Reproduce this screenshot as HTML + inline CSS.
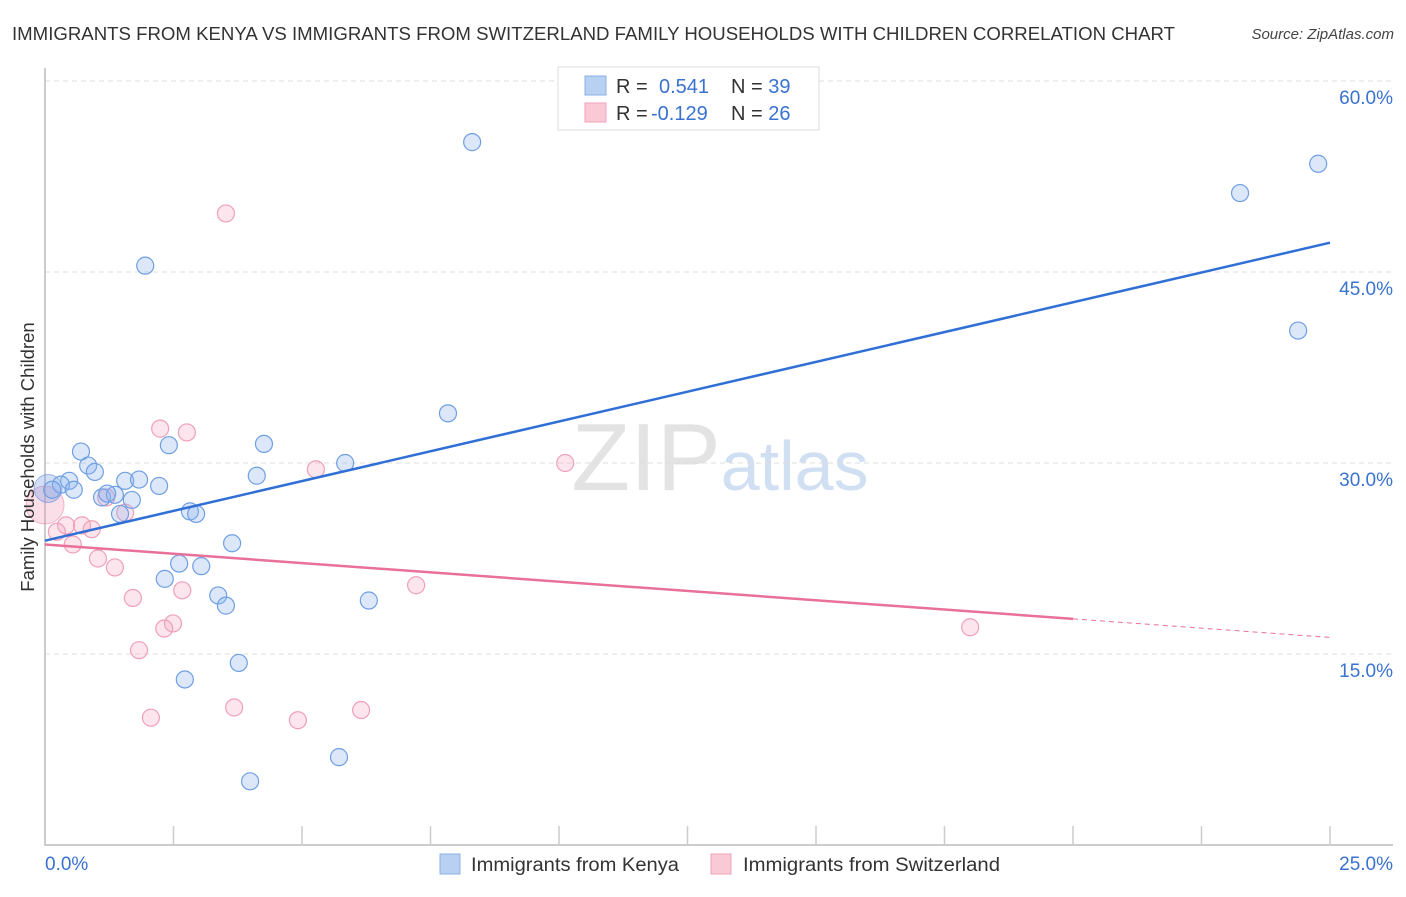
<!DOCTYPE html>
<html><head><meta charset="utf-8"><style>
body{margin:0;background:#fff;font-family:"Liberation Sans",sans-serif;}
svg text{font-family:"Liberation Sans",sans-serif;}
</style></head><body>
<svg id="chart" width="1406" height="892" xmlns="http://www.w3.org/2000/svg">
<text x="12" y="40" font-size="18.5" fill="#333" textLength="1163" lengthAdjust="spacingAndGlyphs">IMMIGRANTS FROM KENYA VS IMMIGRANTS FROM SWITZERLAND FAMILY HOUSEHOLDS WITH CHILDREN CORRELATION CHART</text>
<text x="1394" y="39" font-size="15" fill="#444" font-style="italic" text-anchor="end">Source: ZipAtlas.com</text>
<text x="720" y="490" font-size="96" text-anchor="middle" fill="#ddd" font-family="Liberation Serif, serif" opacity="0.8">ZIP<tspan fill="#c5d8f0" font-family="Liberation Sans, sans-serif" font-size="70">atlas</tspan></text>
<g id="grid"></g>
<g id="axes"></g>
<g id="marks"></g>
<text transform="translate(34,457) rotate(-90)" font-size="18.5" fill="#333" text-anchor="middle">Family Households with Children</text>
<g>
<rect x="558" y="67" width="261" height="63" fill="#fff" stroke="#ddd"/>
<rect x="585" y="76" width="21" height="19" fill="#b8d1f3" stroke="#8ab0e6"/>
<rect x="585" y="103" width="21" height="19" fill="#f9c9d6" stroke="#f0a3b9"/>
<text x="616" y="93" font-size="20" fill="#333">R = <tspan fill="#3a72d0" x="659">0.541</tspan><tspan x="731" fill="#333">N = </tspan><tspan fill="#3a72d0">39</tspan></text>
<text x="616" y="120" font-size="20" fill="#333">R = <tspan fill="#3a72d0" x="651">-0.129</tspan><tspan x="731" fill="#333">N = </tspan><tspan fill="#3a72d0">26</tspan></text>
</g>
<g>
<rect x="440" y="854" width="20" height="20" fill="#b8d1f3" stroke="#8ab0e6"/>
<text x="471" y="871" font-size="19" fill="#333" textLength="208" lengthAdjust="spacingAndGlyphs">Immigrants from Kenya</text>
<rect x="711" y="854" width="20" height="20" fill="#f9c9d6" stroke="#f0a3b9"/>
<text x="743" y="871" font-size="19" fill="#333" textLength="257" lengthAdjust="spacingAndGlyphs">Immigrants from Switzerland</text>
</g>
</svg>
<script>
const yTicks=[15,30,45,60];
const yTickLabels=["15.0%","30.0%","45.0%","60.0%"];
const xTicks=[0,2.5,5,7.5,10,12.5,15,17.5,20,22.5,25];
const kenyaX=[8.31,24.77,23.25,24.38,1.95,7.84,4.26,2.41,0.70,5.84,0.84,0.97,4.12,0.47,1.56,1.83,2.22,0.31,0.56,0.14,1.11,1.36,1.21,1.69,2.82,2.94,1.46,3.64,2.61,3.04,2.33,3.37,3.52,6.30,3.77,2.72,5.72,3.99];
const kenyaY=[55.2,53.5,51.2,40.4,45.5,33.9,31.5,31.4,30.9,30.0,29.8,29.3,29.0,28.6,28.6,28.7,28.2,28.3,27.9,27.9,27.3,27.5,27.6,27.1,26.2,26.0,26.0,23.7,22.1,21.9,20.9,19.6,18.8,19.2,14.3,13.0,6.9,5.0];
const kenyaBig=[0.06,28.0];
const swissX=[3.52,2.24,2.76,5.27,10.12,1.19,1.56,0.41,0.72,0.91,0.23,0.54,1.03,1.36,7.22,2.67,1.71,2.49,2.32,1.83,18.0,2.06,3.68,4.92,6.15];
const swissY=[49.6,32.7,32.4,29.5,30.0,27.3,26.1,25.1,25.1,24.8,24.6,23.6,22.5,21.8,20.4,20.0,19.4,17.4,17.0,15.3,17.1,10.0,10.8,9.8,10.6];
const swissBig=[0,26.7];
const kenyaTrend=[23.9,47.3];
const swissTrend=[23.6,16.3];
const swissSolidEnd=20;
const NS="http://www.w3.org/2000/svg";
const X=v=>45+v/25*1285, Y=v=>845-v*191/15;
function mk(parent,tag,attrs){const e=document.createElementNS(NS,tag);for(const k in attrs)e.setAttribute(k,attrs[k]);document.getElementById(parent).appendChild(e);return e;}
yTicks.forEach((t,i)=>{
 const l=mk('grid','line',{x1:45,x2:1393,y1:Y(t),y2:Y(t),stroke:'#ddd','stroke-dasharray':'5,4'});
 
 
 const tx=mk('axes','text',{x:1393,y:Y(t)+23,'font-size':19,fill:'#3a72d0','text-anchor':'end'});
 tx.textContent=yTickLabels[i];
 
 
});
const ax=mk('axes','path',{d:'M45,68 V845 H1393',fill:'none',stroke:'#bbb','stroke-width':1.5});


xTicks.forEach(t=>{if(t===0)return;const l=mk('axes','line',{x1:X(t),x2:X(t),y1:826,y2:845,stroke:'#ccc','stroke-width':1.5});
 
 });
const x0=mk('axes','text',{x:45,y:870,'font-size':19,fill:'#3a72d0'});x0.textContent='0.0%';


const x1=mk('axes','text',{x:1393,y:870,'font-size':19,fill:'#3a72d0','text-anchor':'end'});x1.textContent='25.0%';


function dots(xs,ys,fill,stroke,name){xs.forEach((x,i)=>{const c=mk('marks','circle',{cx:X(x),cy:Y(ys[i]),r:8.5,fill:fill,stroke:stroke,'stroke-width':1.2});
 
 });}
let b=mk('marks','circle',{cx:X(swissBig[0]),cy:Y(swissBig[1]),r:19,fill:'rgba(240,150,180,0.3)',stroke:'rgba(232,120,160,0.5)'});


b=mk('marks','circle',{cx:X(kenyaBig[0]),cy:Y(kenyaBig[1]),r:14,fill:'rgba(110,150,225,0.3)',stroke:'rgba(80,130,220,0.5)'});


dots(swissX,swissY,'rgba(245,170,195,0.3)','#f0a0b8','switzerland-point');
dots(kenyaX,kenyaY,'rgba(140,180,240,0.3)','#6f9fe3','kenya-point');
let l=mk('marks','line',{x1:X(0),y1:Y(kenyaTrend[0]),x2:X(25),y2:Y(kenyaTrend[1]),stroke:'#2f6fd6','stroke-width':2.5});


const sy=v=>swissTrend[0]+(swissTrend[1]-swissTrend[0])*v/25;
l=mk('marks','line',{x1:X(0),y1:Y(swissTrend[0]),x2:X(swissSolidEnd),y2:Y(sy(swissSolidEnd)),stroke:'#e8709a','stroke-width':2.5});


l=mk('marks','line',{x1:X(swissSolidEnd),y1:Y(sy(swissSolidEnd)),x2:X(25),y2:Y(swissTrend[1]),stroke:'#e8709a','stroke-width':1,'stroke-dasharray':'5,4'});


</script>
</body></html>
